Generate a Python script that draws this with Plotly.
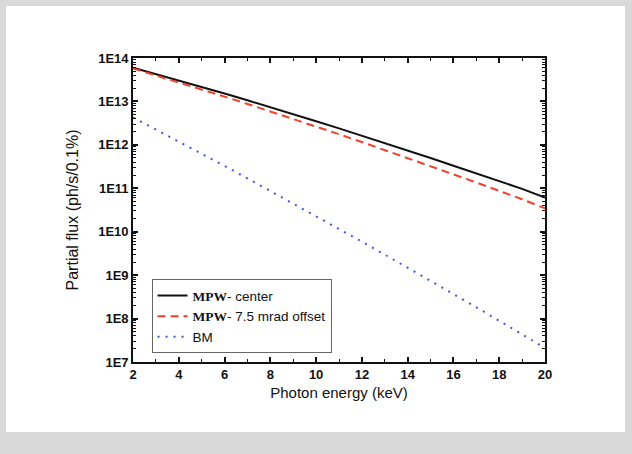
import plotly.graph_objects as go

energy_kev = [2, 3, 4, 5, 6, 7, 8, 9, 10, 11, 12, 13, 14, 15, 16, 17, 18, 19, 20]

mpw_center = [6.0e13, 4.3e13, 3.06e13, 2.16e13, 1.52e13, 1.06e13, 7.4e12, 5.1e12, 3.5e12,
              2.4e12, 1.63e12, 1.11e12, 7.5e11, 5.0e11, 3.3e11, 2.2e11, 1.47e11, 9.7e10, 6.1e10]

mpw_offset = [5.75e13, 3.99e13, 2.75e13, 1.89e13, 1.29e13, 8.75e12, 5.9e12, 3.96e12, 2.65e12,
              1.76e12, 1.16e12, 7.6e11, 5.0e11, 3.27e11, 2.11e11, 1.36e11, 8.7e10, 5.6e10, 3.45e10]

bm = [4.27e12, 2.26e12, 1.19e12, 6.24e11, 3.26e11, 1.69e11, 8.7e10, 4.49e10, 2.29e10,
      1.16e10, 5.9e9, 2.97e9, 1.49e9, 7.4e8, 3.66e8, 1.81e8, 8.9e7, 4.3e7, 2.1e7]

series_names = [
    "<span style='font-family:Liberation Serif'><b>MPW</b></span>- center",
    "<span style='font-family:Liberation Serif'><b>MPW</b></span>- 7.5 mrad offset",
    "BM",
]

x_tickvals = [2, 4, 6, 8, 10, 12, 14, 16, 18, 20]
y_tickvals = [1e7, 1e8, 1e9, 1e10, 1e11, 1e12, 1e13, 1e14]
y_ticktext = ["1E7", "1E8", "1E9", "1E10", "1E11", "1E12", "1E13", "1E14"]

W, H = 632, 454
L, R, T, B = 133, 87, 58, 92
pw, ph = W - L - R, H - T - B

fig = go.Figure()
fig.add_trace(go.Scatter(x=energy_kev, y=mpw_center, mode="lines", name=series_names[0],
                         line=dict(color="#111111", width=2)))
fig.add_trace(go.Scatter(x=energy_kev, y=mpw_offset, mode="lines", name=series_names[1],
                         line=dict(color="#f2402a", width=2, dash="8px,5px")))
fig.add_trace(go.Scatter(x=energy_kev, y=bm, mode="lines", name=series_names[2],
                         line=dict(color="#4455d8", width=2, dash="2px,6px")))

# white panel over grey page
fig.add_shape(type="rect", xref="paper", yref="paper", layer="below",
              x0=(6 - L) / pw, x1=(625 - L) / pw,
              y0=(H - B - 432) / ph, y1=(H - B - 6) / ph,
              fillcolor="white", line=dict(width=0))

axis_common = dict(showline=True, linecolor="#111111", linewidth=1.6, mirror="allticks",
                   ticks="inside", ticklen=5, tickwidth=1.5, tickcolor="#111111",
                   showgrid=False, zeroline=False,
                   tickfont=dict(family="Liberation Sans", size=13, color="#111111", weight="bold"))

fig.update_xaxes(**axis_common, range=[2, 20], tickvals=x_tickvals,
                 minor=dict(ticks="inside", ticklen=3, tickwidth=1.2, tickcolor="#111111", dtick=1),
                 title=dict(text="Photon energy (keV)", standoff=6,
                            font=dict(family="Liberation Sans", size=15, color="#111111")))
fig.update_yaxes(**axis_common, type="log", range=[7, 14], tickvals=y_tickvals, ticktext=y_ticktext,
                 minor=dict(ticks="inside", ticklen=3, tickwidth=1, tickcolor="#111111",
                            tickvals=[m * 10 ** e for e in range(7, 14) for m in range(2, 10)]),
                 title=dict(text="Partial flux (ph/s/0.1%)", standoff=16,
                            font=dict(family="Liberation Sans", size=16, color="#111111")))

fig.update_layout(
    width=W, height=H,
    margin=dict(l=L, r=R, t=T, b=B),
    paper_bgcolor="#d9d9d9", plot_bgcolor="white",
    font=dict(family="Liberation Sans", color="#111111"),
    legend=dict(x=0.045, y=0.272, xanchor="left", yanchor="top",
                bordercolor="#666666", borderwidth=1, bgcolor="white",
                font=dict(family="Liberation Sans", size=13.5, color="#111111"),
                tracegroupgap=0, itemwidth=30),
    showlegend=True,
)

fig.write_html("out.html", config={"displayModeBar": False},
               post_script="document.body.style.margin='0';document.body.style.overflow='hidden';")
